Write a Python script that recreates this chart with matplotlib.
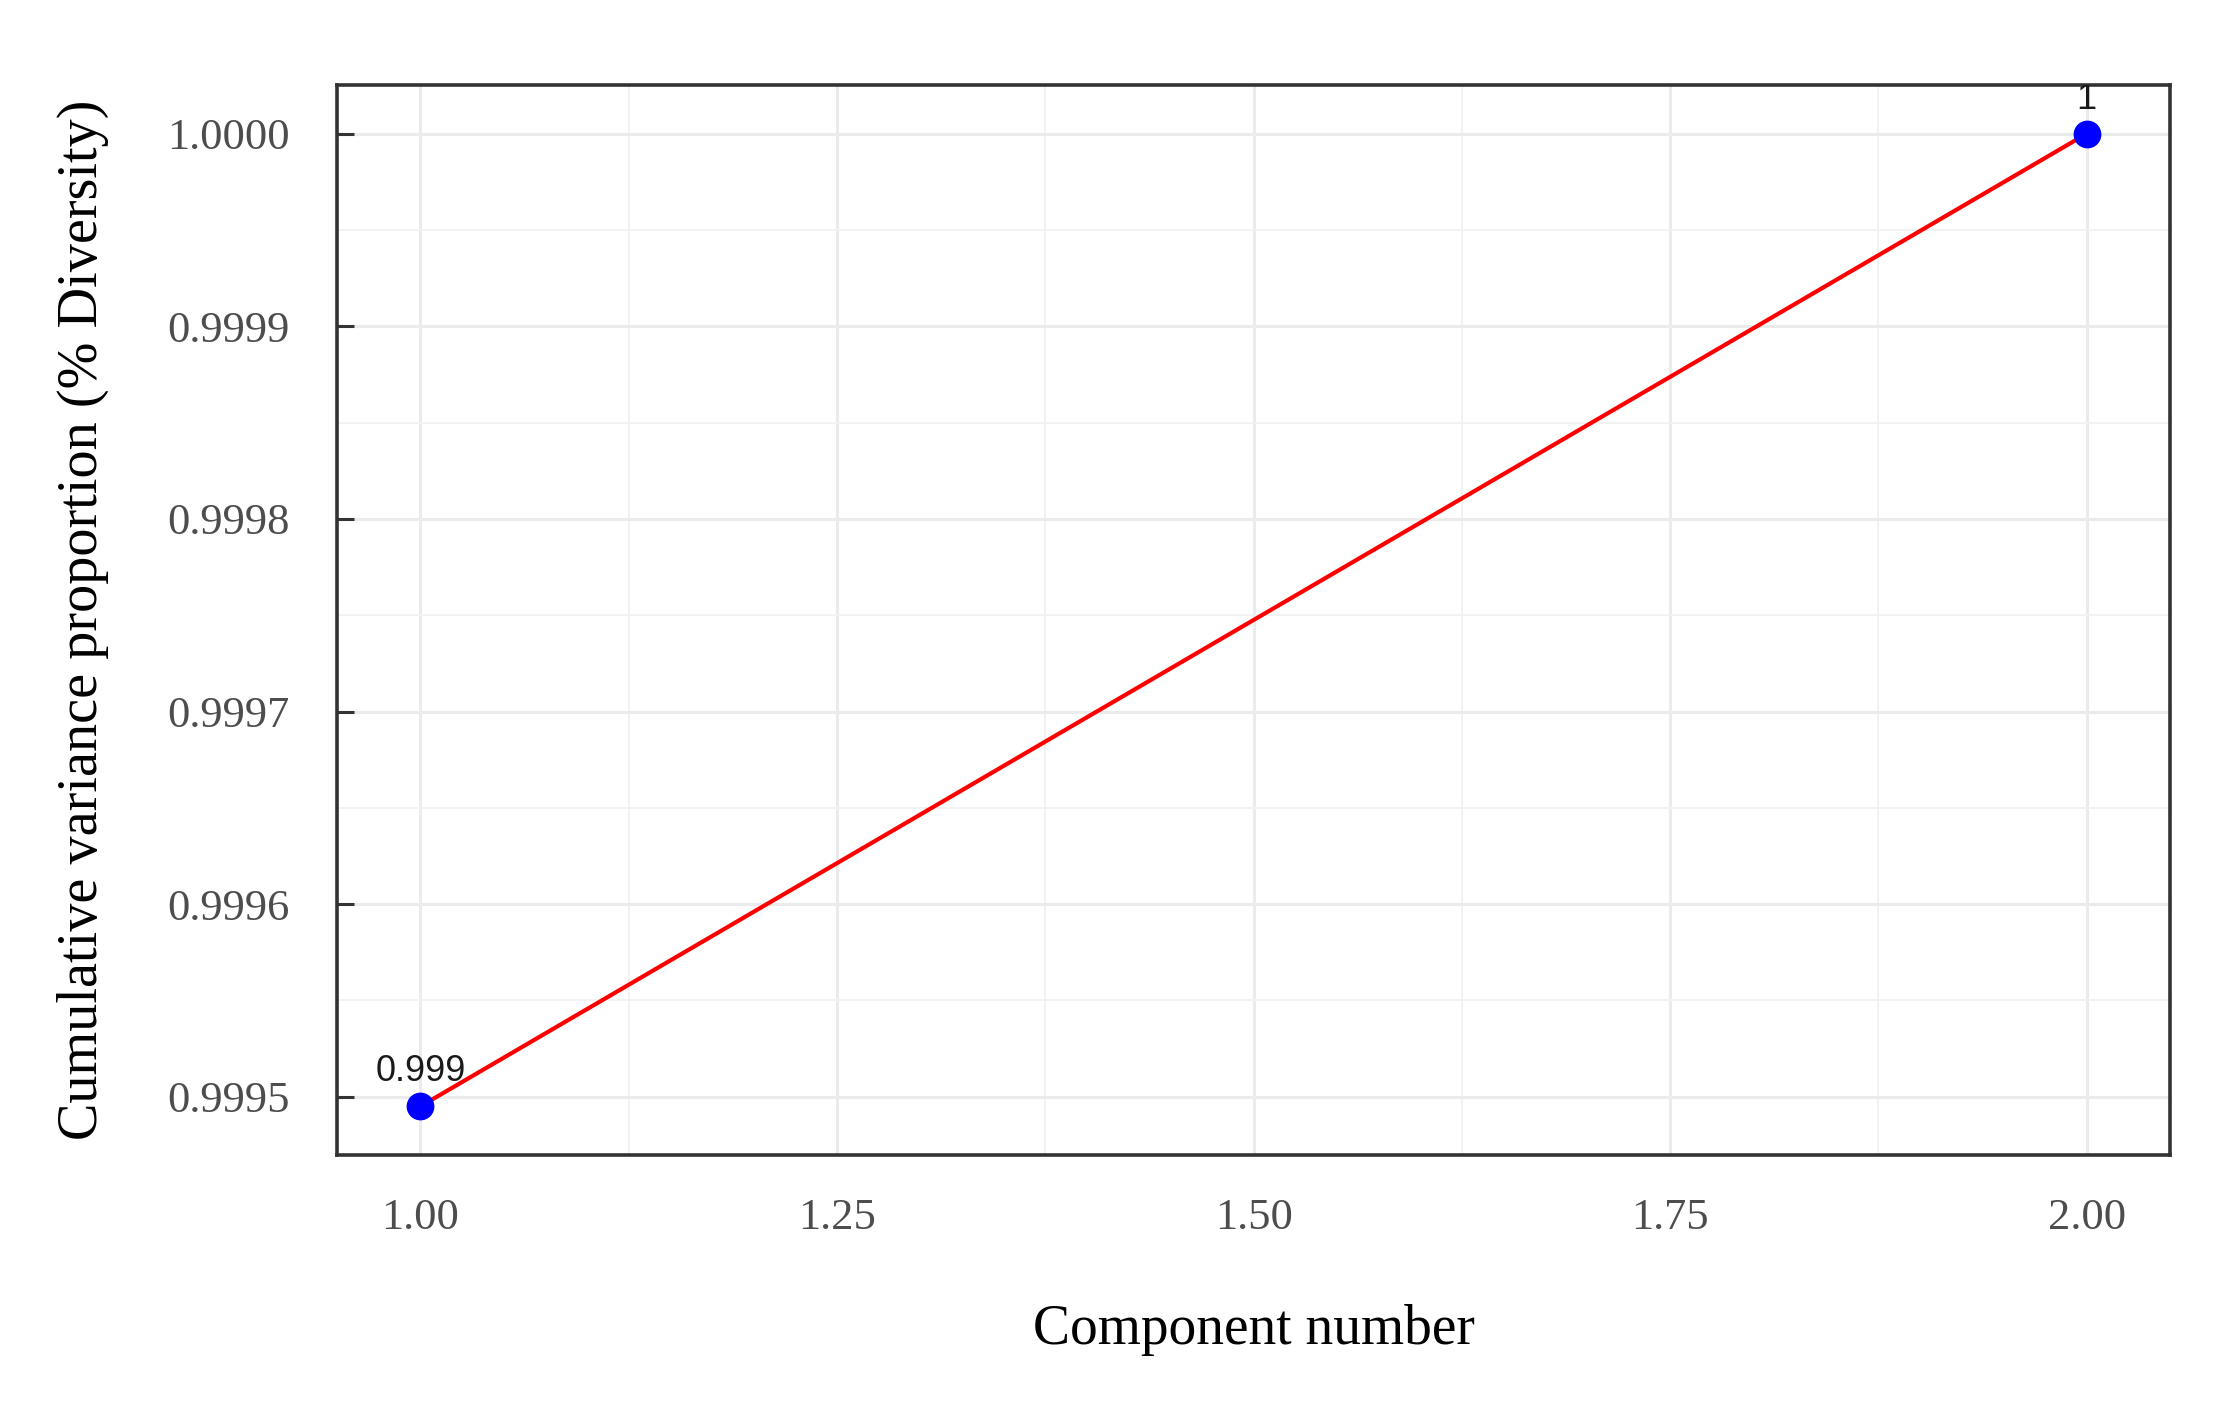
import matplotlib
matplotlib.use("Agg")
import matplotlib.pyplot as plt
from matplotlib.ticker import MultipleLocator, FixedLocator

# Data
components = [1, 2]
cum_variance = [0.999495, 1.0]
point_labels = ["0.999", "1"]
x_ticks = [1.00, 1.25, 1.50, 1.75, 2.00]
x_ticklabels = ["1.00", "1.25", "1.50", "1.75", "2.00"]
y_ticks = [0.9995, 0.9996, 0.9997, 0.9998, 0.9999, 1.0000]
y_ticklabels = ["0.9995", "0.9996", "0.9997", "0.9998", "0.9999", "1.0000"]

fig = plt.figure(figsize=(22.25, 14.08), dpi=100)
ax = fig.add_axes([0.1515, 0.1797, 0.9753 - 0.1515, 0.9396 - 0.1797])

serif = ["Liberation Serif", "DejaVu Serif"]
sans = ["Liberation Sans", "DejaVu Sans"]

ax.plot(components, cum_variance, color="#FF0000", linewidth=3.0, zorder=3)
ax.plot(components, cum_variance, linestyle="none", marker="o", markersize=19,
        color="#0000FF", zorder=4)

for xv, yv, lab in zip(components, cum_variance, point_labels):
    ax.annotate(lab, xy=(xv, yv), xytext=(0, 18), textcoords="offset points",
                ha="center", va="baseline", fontsize=26, family=sans,
                color="#1a1a1a", annotation_clip=False, clip_on=True, zorder=5)

# limits with 5% expansion
xr = components[-1] - components[0]
ax.set_xlim(components[0] - 0.05 * xr, components[-1] + 0.05 * xr)
yr = max(cum_variance) - min(cum_variance)
ax.set_ylim(min(cum_variance) - 0.05 * yr, max(cum_variance) + 0.05 * yr)

ax.xaxis.set_major_locator(FixedLocator(x_ticks))
ax.set_xticklabels(x_ticklabels)
ax.yaxis.set_major_locator(FixedLocator(y_ticks))
ax.set_yticklabels(y_ticklabels)
ax.xaxis.set_minor_locator(MultipleLocator(0.125))
ax.yaxis.set_minor_locator(FixedLocator([0.99945, 0.99955, 0.99965, 0.99975, 0.99985, 0.99995]))

ax.grid(which="major", color="#EBEBEB", linewidth=2.2, zorder=0)
ax.grid(which="minor", color="#F2F2F2", linewidth=1.4, zorder=0)
ax.set_axisbelow(True)

for sp in ax.spines.values():
    sp.set_color("#333333")
    sp.set_linewidth(2.6)

ax.tick_params(axis="y", which="major", direction="in", length=12, width=2.2,
               color="#333333", pad=34, labelsize=32, labelcolor="#4D4D4D")
ax.tick_params(axis="x", which="major", length=0, pad=31, labelsize=32,
               labelcolor="#4D4D4D")
ax.tick_params(which="minor", length=0)
for lab in ax.get_xticklabels() + ax.get_yticklabels():
    lab.set_family(serif)

ax.set_xlabel("Component number", fontsize=40, family=serif, color="black", va="center")
ax.xaxis.set_label_coords(0.5, -0.164)
ax.set_ylabel("Cumulative variance proportion (% Diversity)", fontsize=40.5,
              family=serif, color="black", va="center")
ax.yaxis.set_label_coords(-0.1385, 0.5)

fig.savefig("out.png", dpi=100, facecolor="white")
